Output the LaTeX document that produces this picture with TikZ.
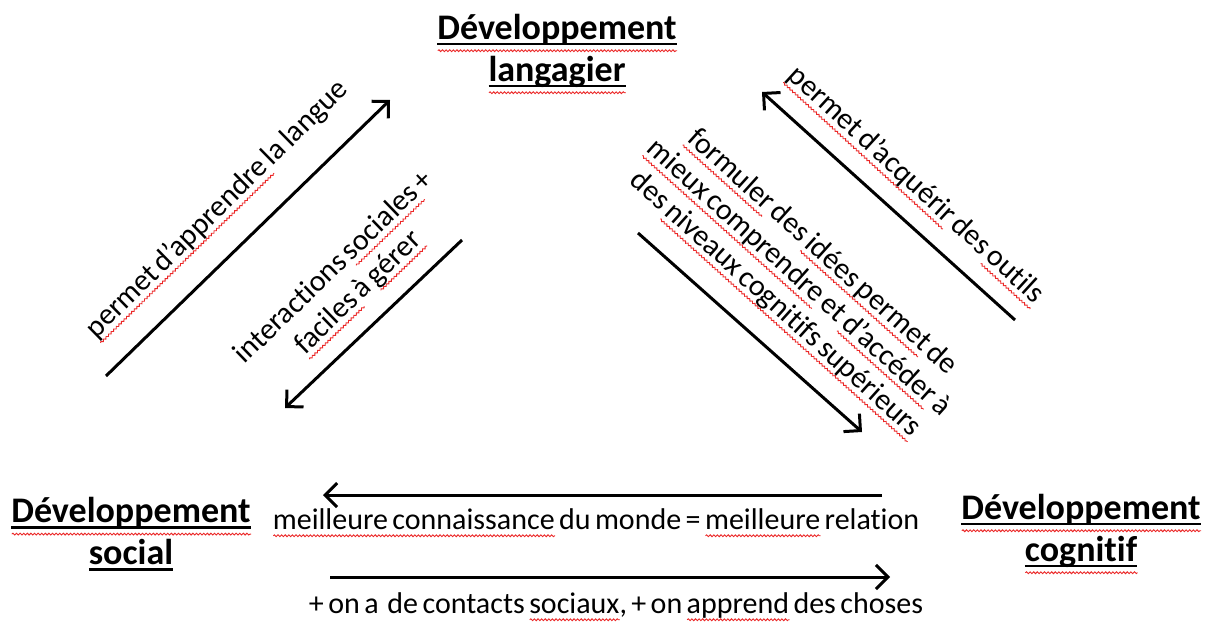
\documentclass[tikz,border=0pt]{standalone}
\usepackage{fontspec}
\setmainfont{Carlito}[Ligatures=NoCommon,WordSpace=0.65]
\usetikzlibrary{arrows.meta,decorations.pathmorphing}
\newsavebox\sqbox
\newlength\sqw
\newcommand\myul[1]{\sbox\sqbox{#1}\setlength\sqw{\wd\sqbox}\rlap{\rule[-0.17em]{\sqw}{0.07em}}\usebox\sqbox}
\newcommand\sq[2][-0.2em]{\sbox\sqbox{#2}\setlength\sqw{\wd\sqbox}\rlap{\tikz[baseline=0pt,x=1pt,y=1pt]\draw[sqred,line width=0.9pt,decorate,decoration={snake,amplitude=0.9pt,segment length=3.6pt}] (0pt,#1) -- (\sqw,#1);}\usebox\sqbox}
\definecolor{sqred}{RGB}{235,40,40}
\begin{document}
\begin{tikzpicture}[x=1pt,y=-1pt,
  head/.style={font=\fontsize{36}{42}\selectfont\bfseries, align=center, inner sep=0pt},
  lab/.style={font=\fontsize{30}{35}\selectfont, align=center, inner sep=0pt},
  arr/.style={line width=3pt, -{Straight Barb[length=12pt,width=24pt]}}]
\useasboundingbox (0,0) rectangle (1214,626);
\node[head] (lang) at (557,54) {\sq[-0.32em]{\myul{Développement}}\\\sq[-0.32em]{\myul{langagier}}};
\node[head] (soc) at (131,534) {\sq[-0.32em]{\myul{Développement}}\\\myul{social}};
\node[head] (cog) at (1081,534) {\sq[-0.32em]{\myul{Développement}}\\\sq[-0.32em]{\myul{cognitif}}};
\coordinate (a1s) at (106,376); \coordinate (a1e) at (390,100);
\coordinate (a2s) at (462,240); \coordinate (a2e) at (285,408);
\coordinate (a3s) at (1015,320); \coordinate (a3e) at (762,92);
\coordinate (a4s) at (638,233); \coordinate (a4e) at (862,432);
\coordinate (a5s) at (882,495); \coordinate (a5e) at (323,495);
\coordinate (a6s) at (330,577); \coordinate (a6e) at (890,577);
\draw[arr] (a1s) -- (a1e);
\draw[arr] (a2s) -- (a2e);
\draw[arr] (a3s) -- (a3e);
\draw[arr] (a4s) -- (a4e);
\draw[arr] (a5s) -- (a5e);
\draw[arr] (a6s) -- (a6e);
\node[lab, rotate=44.4] (l1) at (218,210) {\sq{permet d’apprendre} la langue};
\node[lab, rotate=44] (l2) at (347,281) {interactions \sq{sociales} +\\\sq{faciles} à \sq{gérer}};
\node[lab, rotate=-42.5] (l3) at (915,186) {\sq{permet d’acquérir} des \sq{outils}};
\node[lab, rotate=-42] (l4) at (798,279) {\sq{formuler} des \sq{idées permet} de\\\sq{mieux comprendre} et \sq{d’accéder} à\\des \sq{niveaux cognitifs supérieurs}};
\node[lab] (l5) at (596,523) {\sq{meilleure connaissance} du monde = \sq{meilleure} relation};
\node[lab] (l6) at (616,607) {+ on a\ \ de contacts \sq{sociaux}, + on \sq{apprend} des choses};
\end{tikzpicture}
\end{document}
